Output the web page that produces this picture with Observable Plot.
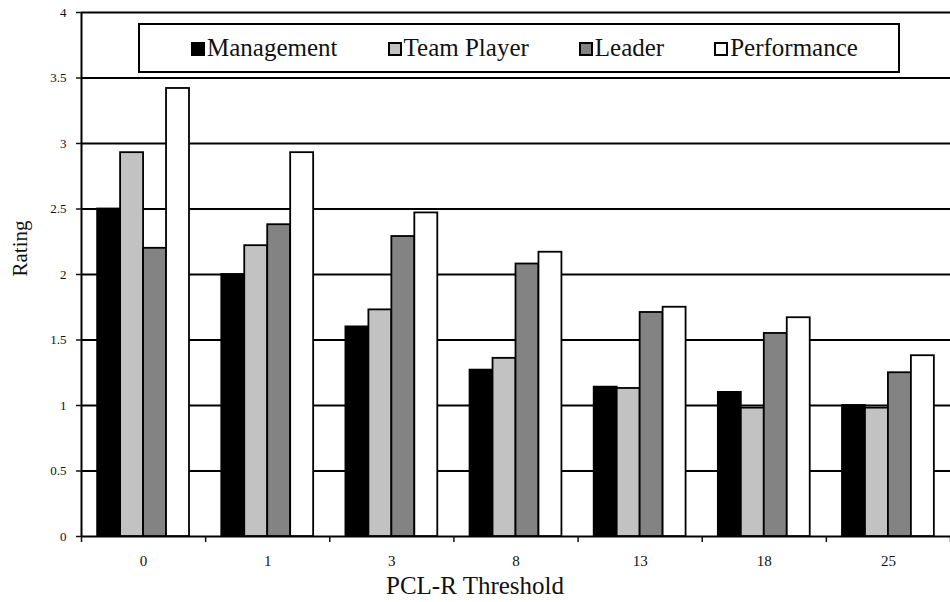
<!DOCTYPE html>
<html>
<head>
<meta charset="utf-8">
<script src="https://cdn.jsdelivr.net/npm/d3@7"></script>
<script src="https://cdn.jsdelivr.net/npm/@observablehq/plot@0.6"></script>
<style>
  body { margin: 0; background: #fff; overflow: hidden; }
  #chart { position: relative; width: 950px; height: 602px; font-family: "Liberation Serif", "Times New Roman", serif; }
  #legend {
    position: absolute; left: 138px; top: 23px; width: 762px; height: 50px;
    box-sizing: border-box; border: 2px solid #000; background: #fff;
    display: flex; align-items: center; padding-left: 51px; gap: 50px;
    font-size: 25px; color: #111; font-family: "Liberation Serif", "Times New Roman", serif;
  }
  .item { display: flex; align-items: center; white-space: nowrap; }
  .sw { width: 14px; height: 14px; box-sizing: border-box; border: 2px solid #000; margin-right: 2px; margin-top: 2px; }
</style>
</head>
<body>
<div id="chart"></div>
<script>
// ---- data ----
const categories = ["0", "1", "3", "8", "13", "18", "25"];
const series = ["Management", "Team Player", "Leader", "Performance"];
const management  = [2.50, 2.00, 1.60, 1.27, 1.14, 1.10, 1.00];
const teamPlayer  = [2.93, 2.22, 1.73, 1.36, 1.13, 0.98, 0.98];
const leader      = [2.20, 2.38, 2.29, 2.08, 1.71, 1.55, 1.25];
const performance = [3.42, 2.93, 2.47, 2.17, 1.75, 1.67, 1.38];
const yTicks = [0, 0.5, 1, 1.5, 2, 2.5, 3, 3.5, 4];
const colors = ["#000000", "#c2c2c2", "#838383", "#ffffff"];

const values = [management, teamPlayer, leader, performance];
const rows = categories.flatMap((c, i) =>
  series.map((s, j) => ({ i, cat: c, series: s, j, value: values[j][i] })));

const groupW = 0.74;
const barW = groupW / series.length;
const serif = '"Liberation Serif", "Times New Roman", serif';

const plot = Plot.plot({
  width: 950,
  height: 602,
  marginLeft: 81,
  marginRight: 0,
  marginTop: 12,
  marginBottom: 66,
  style: { fontFamily: serif, background: "white", color: "#111", overflow: "visible" },
  x: { type: "linear", domain: [-0.5, categories.length - 0.5] },
  y: { domain: [0, 4] },
  color: { type: "ordinal", domain: series, range: colors },
  marks: [
    Plot.ruleY(yTicks, { stroke: "#000", strokeWidth: 2 }),
    Plot.rect(rows, {
      x1: d => d.i - groupW / 2 + d.j * barW,
      x2: d => d.i - groupW / 2 + (d.j + 1) * barW,
      y1: 0,
      y2: "value",
      fill: "series",
      stroke: "#000",
      strokeWidth: 1.8
    }),
    Plot.ruleX([-0.5], { stroke: "#000", strokeWidth: 2 }),
    Plot.axisY({ ticks: yTicks, tickSize: 5, tickPadding: 10, tickFormat: d => String(d), fontSize: 13, label: null, strokeWidth: 1.5 }),
    Plot.axisX({ ticks: d3.range(categories.length), tickFormat: i => categories[i], tickSize: 0, tickPadding: 19, fontSize: 15, label: null }),
    Plot.axisX({ ticks: d3.range(categories.length + 1).map(k => k - 0.5), tickSize: 6, tickFormat: () => "", label: null, strokeWidth: 1.5 }),
    Plot.text(["PCL-R Threshold"], { text: d => d, frameAnchor: "bottom", lineAnchor: "bottom", textAnchor: "middle", dy: 57, dx: -41, fontSize: 25, fill: "#111" }),
    Plot.text(["Rating"], { text: d => d, frameAnchor: "left", textAnchor: "middle", rotate: -90, dx: -61, dy: -26, fontSize: 21, fill: "#111" })
  ]
});

const chart = document.getElementById("chart");
chart.appendChild(plot);

const legend = document.createElement("div");
legend.id = "legend";
series.forEach((s, j) => {
  const item = document.createElement("div");
  item.className = "item";
  const sw = document.createElement("span");
  sw.className = "sw";
  sw.style.background = colors[j];
  const label = document.createElement("span");
  label.textContent = s;
  item.appendChild(sw);
  item.appendChild(label);
  legend.appendChild(item);
});
chart.appendChild(legend);
</script>
</body>
</html>
